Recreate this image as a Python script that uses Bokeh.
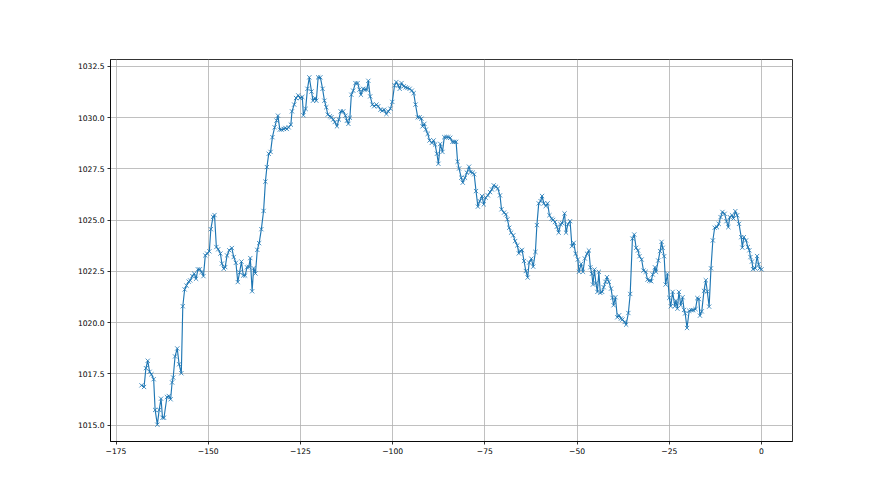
from bokeh.plotting import figure
from bokeh.models import Range1d, FixedTicker
from bokeh.embed import file_html
from bokeh.resources import INLINE

hours = [
    -168.1, -167.4, -166.9, -166.4, -165.9, -165.4, -164.8, -164.4, -163.8, -163.3,
    -162.8, -162.4, -162.0, -161.2, -160.7, -160.2, -159.8, -159.5, -159.0, -158.4,
    -157.9, -157.3, -156.9, -156.4, -155.9, -155.3, -154.9, -154.3, -153.8, -153.3,
    -152.8, -152.3, -151.8, -151.3, -150.8, -150.3, -149.7, -149.3, -148.7, -148.3,
    -147.8, -147.3, -146.7, -146.3, -145.8, -145.4, -144.9, -144.3, -143.6, -143.1,
    -142.5, -142.0, -141.5, -141.0, -140.5, -140.0, -139.5, -139.0,
    -138.6, -138.1, -137.7, -137.2, -136.7, -136.2, -135.6, -135.0, -134.5, -134.1,
    -133.6, -133.1, -132.6, -132.0, -131.5, -131.1, -130.6, -130.1, -129.5, -129.1,
    -128.7, -128.2, -127.6, -127.3, -126.7, -126.2, -125.6, -125.1, -124.5, -124.2,
    -123.6, -123.1, -122.6, -122.0, -121.6, -121.1, -120.7, -120.2, -119.6, -119.0,
    -118.5, -118.0, -117.6, -117.0, -116.6, -116.1, -115.7, -115.1, -114.6, -114.1,
    -113.4, -112.8, -112.4, -112.0, -111.6, -111.2,
    -110.7, -110.1, -109.5, -109.0, -108.6, -108.0, -107.5, -107.0, -106.6, -106.1,
    -105.5, -105.0, -104.4, -103.9, -103.3, -102.8, -102.3, -101.7, -101.2, -100.6,
    -100.1, -99.5, -99.0, -98.5, -98.1, -97.6, -97.0, -96.5, -96.0, -95.4,
    -94.8, -94.3, -93.8, -93.2, -92.7, -92.2, -91.9, -91.4, -91.0, -90.5,
    -90.0, -89.4, -88.9, -88.5, -88.0, -87.6, -87.1, -86.5, -86.0, -85.4,
    -84.9, -84.4, -83.8, -83.3, -82.8, -82.4, -82.0,
    -81.4, -81.0, -80.4, -79.9, -79.3, -78.9, -78.3, -77.9, -77.4, -76.9,
    -76.4, -75.8, -75.3, -74.8, -74.2, -73.6, -73.1, -72.6, -72.0, -71.5,
    -70.9, -70.5, -69.8, -69.3, -68.9, -68.4, -67.9, -67.3, -66.8, -66.2,
    -65.8, -65.4, -64.9, -64.4, -63.9, -63.4, -63.0, -62.4, -61.9, -61.3,
    -60.9, -60.4, -59.9, -59.5, -59.0, -58.5, -58.0, -57.5, -56.9, -56.5,
    -56.0, -55.5, -55.0, -54.5, -54.0, -53.4, -53.0, -52.5, -51.9,
    -51.4, -50.9, -50.4, -49.8, -49.5, -48.9, -48.4, -47.9, -47.3, -46.8,
    -46.4, -46.0, -45.7, -45.3, -44.9, -44.5, -44.1, -43.7, -43.2, -42.8,
    -42.3, -41.9, -41.4, -40.8, -40.4, -40.1, -39.6, -39.1, -38.6, -38.1,
    -37.7, -37.1, -36.7, -36.1, -35.6, -35.0, -34.5, -34.0, -33.5, -33.1,
    -32.5, -32.0, -31.4, -30.9, -30.4, -29.9, -29.5, -28.9, -28.6, -28.0,
    -27.5, -27.1, -26.8, -26.4, -26.0, -25.5, -25.0, -24.6, -24.1, -23.5,
    -23.2, -22.8, -22.4,
    -21.9, -21.4, -21.0, -20.7, -20.2, -19.6, -19.0, -18.5, -17.9, -17.4,
    -17.0, -16.7, -16.2, -15.6, -15.1, -14.7, -14.2, -13.7, -13.2, -12.7,
    -12.1, -11.6, -11.1, -10.6, -10.0, -9.5, -9.0, -8.6, -8.0, -7.6,
    -7.1, -6.6, -6.1, -5.5, -5.2, -4.8, -4.2, -3.7, -3.3, -3.0,
    -2.6, -2.3, -1.7, -1.2, -0.8, -0.5, 0.0,
]

pressure = [
    1016.94, 1016.86, 1017.78, 1018.14, 1017.60, 1017.48, 1017.24, 1015.74, 1015.02, 1015.74,
    1016.29, 1015.36, 1015.36, 1016.37, 1016.42, 1016.26, 1017.08, 1017.32, 1018.35, 1018.74,
    1017.97, 1017.53, 1020.80, 1021.62, 1021.81, 1022.00, 1022.06, 1022.27, 1022.39, 1022.14,
    1022.60, 1022.60, 1022.47, 1022.27, 1023.28, 1023.37, 1023.48, 1024.56, 1025.16, 1025.25,
    1023.69, 1023.58, 1023.37, 1022.88, 1022.63, 1022.71, 1023.28, 1023.53, 1023.64, 1023.20,
    1022.92, 1021.98, 1022.45, 1022.98, 1022.30, 1022.30, 1022.70, 1022.72,
    1023.15, 1021.53, 1022.66, 1022.40, 1023.55, 1023.88, 1024.56, 1025.45, 1026.88, 1027.59,
    1028.24, 1028.33, 1029.05, 1029.53, 1029.86, 1030.10, 1029.42, 1029.42, 1029.45, 1029.50,
    1029.45, 1029.53, 1029.66, 1030.31, 1030.64, 1030.96, 1031.09, 1030.96, 1031.01, 1030.12,
    1030.43, 1031.41, 1031.97, 1031.28, 1030.83, 1030.96, 1030.83, 1031.97, 1031.97, 1031.41,
    1030.83, 1030.51, 1030.15, 1030.07, 1030.02, 1029.91, 1029.79, 1029.58, 1029.91, 1030.31,
    1030.31, 1030.10, 1029.85, 1029.70, 1030.00, 1031.12,
    1031.32, 1031.69, 1031.69, 1031.37, 1031.12, 1031.41, 1031.37, 1031.37, 1031.80, 1031.04,
    1030.64, 1030.56, 1030.64, 1030.56, 1030.39, 1030.34, 1030.39, 1030.18, 1030.31, 1030.44,
    1030.77, 1031.58, 1031.74, 1031.58, 1031.41, 1031.69, 1031.53, 1031.48, 1031.45, 1031.41,
    1031.32, 1031.20, 1030.64, 1030.02, 1030.02, 1029.95, 1029.58, 1029.70, 1029.42, 1029.21,
    1028.89, 1028.77, 1028.89, 1028.69, 1028.24, 1027.75, 1028.72, 1028.33, 1029.05, 1029.05,
    1029.05, 1029.02, 1028.82, 1028.82, 1028.82, 1027.85, 1027.52,
    1027.07, 1026.83, 1027.07, 1027.32, 1027.61, 1027.35, 1027.32, 1027.24, 1026.42, 1025.66,
    1025.93, 1026.18, 1025.77, 1026.10, 1026.21, 1026.37, 1026.50, 1026.70, 1026.63, 1026.54,
    1026.21, 1025.53, 1025.37, 1025.28, 1025.04, 1024.63, 1024.39, 1024.26, 1023.98, 1023.77,
    1023.38, 1023.50, 1023.54, 1023.01, 1022.52, 1022.20, 1022.93, 1023.12, 1022.73, 1023.45,
    1024.76, 1025.82, 1025.93, 1026.18, 1025.82, 1025.69, 1025.82, 1025.24, 1025.07, 1025.01,
    1024.91, 1024.68, 1024.39, 1024.80, 1024.85, 1025.33, 1024.39, 1024.80, 1024.95,
    1023.73, 1023.89, 1023.36, 1023.08, 1022.48, 1022.87, 1022.48, 1023.13, 1023.36, 1023.52,
    1022.70, 1022.38, 1021.86, 1022.59, 1021.92, 1021.50, 1022.48, 1021.45, 1021.50, 1021.73,
    1021.99, 1022.22, 1021.99, 1021.66, 1021.21, 1020.85, 1021.24, 1020.26, 1020.36, 1020.20,
    1020.15, 1020.03, 1019.90, 1020.47, 1021.40, 1024.10, 1024.30, 1023.65, 1023.52, 1023.24,
    1023.08, 1022.54, 1022.48, 1022.10, 1022.05, 1022.02, 1022.35, 1022.70, 1022.48, 1023.03,
    1023.49, 1023.94, 1023.65, 1023.24, 1021.86, 1022.38, 1021.21, 1020.80, 1021.50, 1020.80,
    1021.07, 1020.68, 1021.50,
    1020.85, 1021.24, 1020.62, 1020.45, 1019.74, 1020.58, 1020.61, 1020.61, 1020.66, 1021.20,
    1021.15, 1020.34, 1020.55, 1021.55, 1022.07, 1021.52, 1020.78, 1022.65, 1024.01, 1024.63,
    1024.66, 1024.82, 1025.15, 1025.40, 1025.31, 1024.95, 1024.66, 1025.15, 1025.24, 1025.08,
    1025.44, 1025.24, 1024.82, 1024.17, 1023.66, 1024.17, 1024.01, 1023.69, 1023.53, 1023.20,
    1022.98, 1022.61, 1022.65, 1023.25, 1022.85, 1022.65, 1022.60,
]

x_ticks = [-175, -150, -125, -100, -75, -50, -25, 0]
x_tick_labels = ["\u2212175", "\u2212150", "\u2212125", "\u2212100", "\u221275", "\u221250", "\u221225", "0"]
y_ticks = [1015.0, 1017.5, 1020.0, 1022.5, 1025.0, 1027.5, 1030.0, 1032.5]
y_tick_labels = ["1015.0", "1017.5", "1020.0", "1022.5", "1025.0", "1027.5", "1030.0", "1032.5"]

p = figure(width=864, height=479, output_backend="svg", toolbar_location=None,
           x_range=Range1d(-176.5, 8.4), y_range=Range1d(1014.2, 1032.84),
           min_border_left=110, min_border_right=72, min_border_top=59, min_border_bottom=38)

p.background_fill_color = "white"
p.border_fill_color = "white"
p.outline_line_color = "black"
p.outline_line_width = 0.8

p.line(hours, pressure, line_color="#1f77b4", line_width=1.15)
p.scatter(hours, pressure, marker="x", size=6, line_color="#1f77b4", line_width=0.8)

p.xaxis.ticker = FixedTicker(ticks=x_ticks)
p.yaxis.ticker = FixedTicker(ticks=y_ticks)
p.xaxis.major_label_overrides = {t: l for t, l in zip(x_ticks, x_tick_labels)}
p.yaxis.major_label_overrides = {t: l for t, l in zip(y_ticks, y_tick_labels)}

for ax in (p.xaxis, p.yaxis):
    ax.axis_line_color = "black"
    ax.axis_line_width = 0.8
    ax.major_tick_line_color = "black"
    ax.major_tick_line_width = 0.8
    ax.major_tick_in = 0
    ax.major_tick_out = 3
    ax.minor_tick_line_color = None
    ax.major_label_text_font = "DejaVu Sans"
    ax.major_label_text_font_size = "7.6px"
    ax.major_label_text_color = "black"
    ax.major_label_standoff = 3

p.xgrid.grid_line_color = "#b0b0b0"
p.ygrid.grid_line_color = "#b0b0b0"
p.xgrid.grid_line_width = 0.8
p.ygrid.grid_line_width = 0.8

open("out.html", "w").write(file_html(p, INLINE))
